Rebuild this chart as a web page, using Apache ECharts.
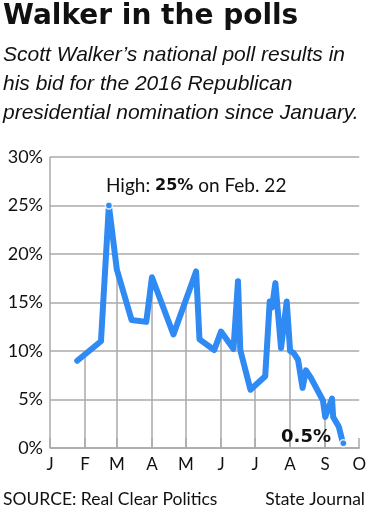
<!DOCTYPE html>
<html>
<head>
<meta charset="utf-8">
<script src="https://cdn.jsdelivr.net/npm/echarts@6/dist/echarts.min.js"></script>
<style>
html,body{margin:0;padding:0;background:#fff;}
#chart{width:369px;height:512px;}
</style>
</head>
<body>
<div id="chart"></div>
<script>
var pollDates = ['2015-01-25','2015-02-15','2015-02-22','2015-03-01','2015-03-14','2015-03-27','2015-04-01','2015-04-20','2015-05-10','2015-05-13','2015-05-26','2015-06-01','2015-06-12','2015-06-16','2015-06-18','2015-06-27','2015-07-10','2015-07-14','2015-07-16','2015-07-19','2015-07-24','2015-07-29','2015-08-01','2015-08-04','2015-08-08','2015-08-12','2015-08-15','2015-08-19','2015-08-30','2015-09-01','2015-09-07','2015-09-08','2015-09-13','2015-09-16','2015-09-17'];
var pollValues = [9.0,11.0,25.0,18.4,13.2,13.0,17.6,11.7,18.2,11.2,10.1,12.0,10.2,17.2,10.1,6.0,7.4,15.1,14.5,17.0,10.3,15.1,10.0,9.8,9.1,6.2,8.0,7.3,4.9,3.2,5.1,3.2,2.2,0.8,0.5];
var monthLetters = ['J','F','M','A','M','J','J','A','S','O','N','D'];
var highlightIdx = [2, pollValues.length - 1];
var titleText = 'Walker in the polls';
var subtitleText = 'Scott Walker\u2019s national poll results in\nhis bid for the 2016 Republican\npresidential nomination since January.';
var sourceText = 'SOURCE: Real Clear Politics';
var creditText = 'State Journal';

var BLUE = '#2f8af3';
var GRID = '#aaaaaa';
var seriesData = pollDates.map(function(d, i){ return [d, pollValues[i]]; });
var dotData = highlightIdx.map(function(i){ return [pollDates[i], pollValues[i]]; });

var chart = echarts.init(document.getElementById('chart'), null, {renderer:'canvas'});
chart.setOption({
  animation: false,
  backgroundColor: '#fff',
  grid: {left: 50, right: 6, top: 157, bottom: 64, containLabel: false},
  xAxis: {
    type: 'time',
    min: '2015-01-01',
    max: '2015-10-01',
    minInterval: 28 * 86400000,
    maxInterval: 31 * 86400000,
    axisLine: {show: true, lineStyle: {color: GRID, width: 1.5}},
    axisTick: {show: true, inside: true, length: 10, lineStyle: {color: GRID, width: 1.5}},
    splitLine: {show: true, showMinLine: false, showMaxLine: false, lineStyle: {color: GRID, width: 1.5}},
    axisLabel: {
      show: true, showMinLabel: true, showMaxLabel: true,
      margin: 8, color: '#111', fontFamily: 'Lato', fontSize: 17,
      formatter: function(v){ return monthLetters[new Date(v).getMonth()]; }
    }
  },
  yAxis: [{
    type: 'value', min: 0, max: 30, interval: 5,
    axisLine: {show: false}, axisTick: {show: false},
    splitLine: {show: false},
    axisLabel: {formatter: '{value}%', margin: 7, color: '#111', fontFamily: 'Lato', fontSize: 18}
  }, {
    type: 'value', min: 0, max: 30, interval: 5, position: 'left', z: 3,
    axisLine: {show: false}, axisTick: {show: false}, axisLabel: {show: false},
    splitLine: {show: true, lineStyle: {color: GRID, width: 1.5}}
  }],
  series: [{
    type: 'line', data: seriesData, yAxisIndex: 0, z: 2, silent: true,
    symbol: 'none', lineStyle: {width: 0, opacity: 0},
    areaStyle: {color: '#ffffff', opacity: 1, origin: 'end'}
  }, {
    type: 'line', data: seriesData, yAxisIndex: 0, z: 5,
    symbol: 'none', color: BLUE,
    lineStyle: {color: BLUE, width: 6, join: 'round', cap: 'round'}
  }, {
    type: 'scatter', data: dotData, yAxisIndex: 0, z: 6,
    symbol: 'circle', symbolSize: 7,
    itemStyle: {color: BLUE, borderColor: '#fff', borderWidth: 1.5}
  }],
  graphic: [
    {type: 'text', left: 3, top: 3, z: 10, style: {text: titleText, font: 'bold 28px "DejaVu Sans"', fill: '#111'}},
    {type: 'text', left: 3, top: 41, z: 10, style: {text: subtitleText, font: 'italic 21px "Liberation Sans"', lineHeight: 29, fill: '#111'}},
    {type: 'text', left: 106, top: 176, z: 10, style: {
      text: 'High: {b|25%} on Feb. 22',
      rich: {b: {fontFamily: 'DejaVu Sans', fontWeight: 'bold', fontSize: 16, fill: '#111'}},
      fontFamily: 'Lato', fontSize: 19, fill: '#111'}},
    {type: 'text', right: 38, top: 428, z: 10, style: {text: '0.5%', font: 'bold 18px "DejaVu Sans"', fill: '#111'}},
    {type: 'text', left: 3, top: 490, z: 10, style: {text: sourceText, font: '17.5px Lato', fill: '#111'}},
    {type: 'text', right: 4, top: 490, z: 10, style: {text: creditText, font: '17.5px Lato', fill: '#111'}}
  ]
});
</script>
</body>
</html>
